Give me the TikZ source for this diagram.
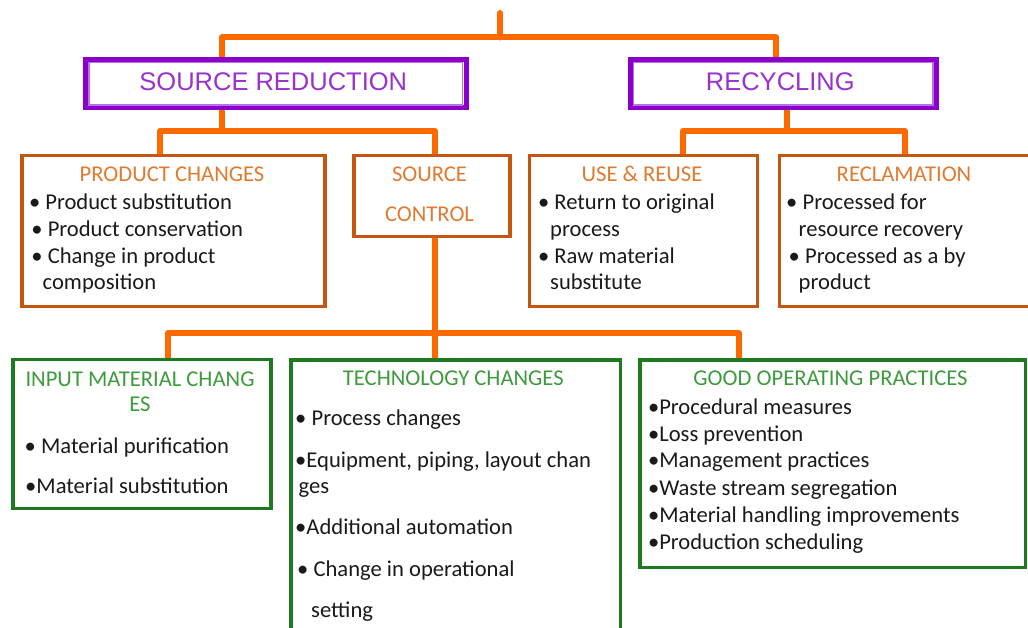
\documentclass[tikz,border=0pt]{standalone}
\usepackage{fontspec}
\setmainfont{Carlito}
\newfontfamily\arialf{Liberation Sans}
\usetikzlibrary{calc}
\definecolor{conn}{HTML}{FF6A00}
\definecolor{obrd}{HTML}{C5560F}
\definecolor{otxt}{HTML}{E07A30}
\definecolor{gbrd}{HTML}{1F7A1F}
\definecolor{gtxt}{HTML}{3D9B3D}
\definecolor{pbrd}{HTML}{8A00C8}
\definecolor{pin}{HTML}{B970E6}
\definecolor{ptxt}{HTML}{9932CC}
\definecolor{btxt}{HTML}{1A1A1A}
\begin{document}
\begin{tikzpicture}[x=1pt,y=-1pt,
 connline/.style={draw=conn, line width=6pt, line join=round},
 obox/.style={draw=obrd, line width=3.5pt, inner sep=0pt, anchor=north west},
 gbox/.style={draw=gbrd, line width=3.5pt, inner sep=0pt, anchor=north west},
 pbox/.style={draw=pbrd, line width=5pt, inner sep=0pt, anchor=north west},
 pinner/.style={draw=pin, line width=1.5pt},
 ptitle/.style={text=ptxt, font=\arialf\fontsize{25.5}{30}\selectfont, anchor=base, inner sep=0pt},
 otitle/.style={text=otxt, font=\fontsize{22.6}{26}\selectfont, anchor=base, inner sep=0pt},
 gtitle/.style={text=gtxt, font=\fontsize{22.6}{26}\selectfont, anchor=base, inner sep=0pt},
 item/.style={text=btxt, font=\fontsize{22.6}{26}\selectfont, anchor=base west, inner sep=0pt},
]
\useasboundingbox (0,0) rectangle (1028,628);
\clip (0,0) rectangle (1028,628);

% top level boxes
\node[pbox, minimum width=380.5pt, minimum height=47.5pt] (sr) at (83,57.5) {};
\draw[pinner] ([shift={(6,5)}]sr.north west) rectangle ([shift={(-6,-5)}]sr.south east);
\node[ptitle] (srt) at (273.3,90.7) {SOURCE REDUCTION};
\node[pbox, minimum width=306.5pt, minimum height=47.5pt] (rc) at (627.5,57.5) {};
\draw[pinner] ([shift={(6,5)}]rc.north west) rectangle ([shift={(-6,-5)}]rc.south east);
\node[ptitle] (rct) at (780.3,90.7) {RECYCLING};

% second level boxes
\node[obox, minimum width=303pt, minimum height=151pt] (pc) at (20,154) {};
\node[obox, minimum width=156pt, minimum height=81pt] (sc) at (352,154) {};
\node[obox, minimum width=228pt, minimum height=151pt] (ur) at (527.5,154) {};
\node[obox, minimum width=270pt, minimum height=151pt] (rm) at (777.5,154) {};

% third level boxes
\node[gbox, minimum width=258pt, minimum height=149pt] (im) at (11,357.5) {};
\node[gbox, minimum width=329.5pt, minimum height=300pt] (tc) at (289,358) {};
\node[gbox, minimum width=385.5pt, minimum height=207.5pt] (go) at (638,358) {};

% product changes
\node[otitle] (pct) at (172,182) {PRODUCT CHANGES};
\node[item] (pc1) at (28.8,210) {• Product substitution};
\node[item] (pc2) at (31.2,236.7) {• Product conservation};
\node[item] (pc3) at (31.2,263.3) {• Change in product};
\node[item] (pc4) at (42.5,290) {composition};

% source control
\node[otitle] (sct1) at (429.5,181.7) {SOURCE};
\node[otitle] (sct2) at (429.5,221.7) {CONTROL};

% use & reuse
\node[otitle] (urt) at (642,182) {USE \& REUSE};
\node[item] (ur1) at (537.8,210) {• Return to original};
\node[item] (ur2) at (550,236.7) {process};
\node[item] (ur3) at (537.8,263.3) {• Raw material};
\node[item] (ur4) at (550,290) {substitute};

% reclamation
\node[otitle] (rmt) at (904,182) {RECLAMATION};
\node[item] (rm1) at (786,210) {• Processed for};
\node[item] (rm2) at (798.5,236.7) {resource recovery};
\node[item] (rm3) at (788.5,263.3) {• Processed as a by};
\node[item] (rm4) at (798.5,290) {product};

% input material changes
\node[gtitle] (imt1) at (140,386) {INPUT MATERIAL CHANG};
\node[gtitle] (imt2) at (140,411.7) {ES};
\node[item] (im1) at (24.5,453.3) {• Material purification};
\node[item] (im2) at (25,493.3) {•Material substitution};

% technology changes
\node[gtitle] (tct) at (453.3,385) {TECHNOLOGY CHANGES};
\node[item] (tc1) at (295,425) {• Process changes};
\node[item] (tc2) at (295,467.3) {•Equipment, piping, layout chan};
\node[item] (tc3) at (298.5,493.3) {ges};
\node[item] (tc4) at (295,534) {•Additional automation};
\node[item] (tc5) at (297,576.7) {• Change in operational};
\node[item] (tc6) at (311,617.3) {setting};

% good operating practices
\node[gtitle] (got) at (830.5,385) {GOOD OPERATING PRACTICES};
\node[item] (go1) at (647.8,414) {•Procedural measures};
\node[item] (go2) at (647.8,441) {•Loss prevention};
\node[item] (go3) at (647.8,467.7) {•Management practices};
\node[item] (go4) at (647.8,495) {•Waste stream segregation};
\node[item] (go5) at (647.8,522.7) {•Material handling improvements};
\node[item] (go6) at (647.8,549.3) {•Production scheduling};

% connectors
\coordinate (top) at (500,13);
\coordinate (tj) at (500,37.5);
\coordinate (tl) at (222,37.5);
\coordinate (tr) at (776,37.5);
\draw[connline, line cap=round] (top) -- (tj);
\draw[connline] (sr.north -| tl) -- (tl) -- (tr) -- (rc.north -| tr);

\coordinate (sj) at (222,131);
\coordinate (sjl) at (160,131);
\coordinate (sjr) at (435,131);
\draw[connline] (sr.south -| sj) -- (sj);
\draw[connline] (pc.north -| sjl) -- (sjl) -- (sjr) -- (sc.north -| sjr);

\coordinate (rj) at (786.7,131);
\coordinate (rjl) at (683,131);
\coordinate (rjr) at (905,131);
\draw[connline] (rc.south -| rj) -- (rj);
\draw[connline] (ur.north -| rjl) -- (rjl) -- (rjr) -- (rm.north -| rjr);

\coordinate (cj) at (435,333);
\coordinate (cjl) at (168,333);
\coordinate (cjr) at (739,333);
\draw[connline] (sc.south -| cj) -- (cj);
\draw[connline] (im.north -| cjl) -- (cjl) -- (cjr) -- (go.north -| cjr);
\draw[connline] (cj) -- (tc.north -| cj);
\end{tikzpicture}
\end{document}
